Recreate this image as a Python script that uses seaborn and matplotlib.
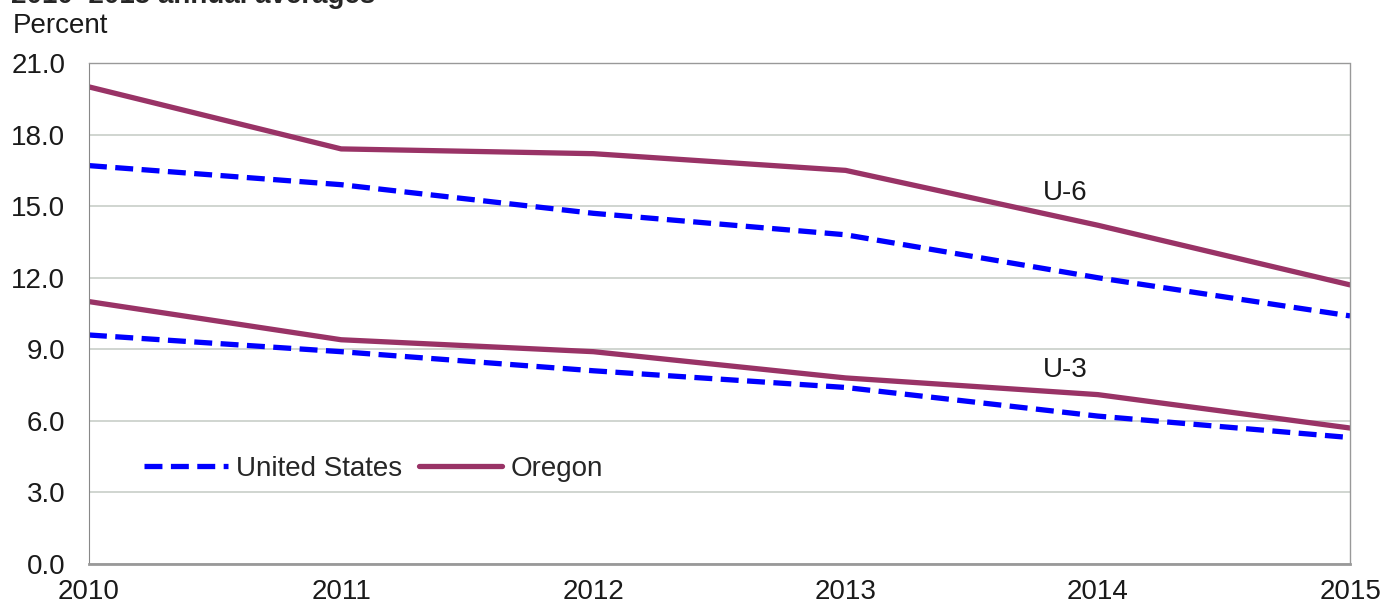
import matplotlib
matplotlib.use("Agg")
import matplotlib.pyplot as plt
import seaborn as sns
import pandas as pd

years = [2010, 2011, 2012, 2013, 2014, 2015]
us_u6 = [16.7, 15.9, 14.7, 13.8, 12.0, 10.4]
oregon_u6 = [20.0, 17.4, 17.2, 16.5, 14.2, 11.7]
us_u3 = [9.6, 8.9, 8.1, 7.4, 6.2, 5.3]
oregon_u3 = [11.0, 9.4, 8.9, 7.8, 7.1, 5.7]
y_ticks = [0, 3, 6, 9, 12, 15, 18, 21]

rows = []
for measure, area, vals in [("U-6", "United States", us_u6), ("U-6", "Oregon", oregon_u6),
                            ("U-3", "United States", us_u3), ("U-3", "Oregon", oregon_u3)]:
    for yr, v in zip(years, vals):
        rows.append({"Year": yr, "Rate": v, "Area": area, "Measure": measure})
df = pd.DataFrame(rows)

sns.set_style("white")
plt.rcParams["font.family"] = ["Liberation Sans", "DejaVu Sans"]

colors = {"United States": "#0000FF", "Oregon": "#993366"}
dashes = {"United States": (3.4, 1.6), "Oregon": ""}

fig = plt.figure(figsize=(13.81, 6.06), dpi=100)
ax = fig.add_axes([0.0644, 0.0693, 0.9132, 0.8267])

for i, measure in enumerate(["U-6", "U-3"]):
    sub = df[df["Measure"] == measure]
    sns.lineplot(data=sub, x="Year", y="Rate", hue="Area", style="Area",
                 hue_order=["United States", "Oregon"], style_order=["United States", "Oregon"],
                 palette=colors, dashes=dashes, linewidth=3.8, ax=ax, legend=(i == 0))

ax.set_xlim(2010, 2015)
ax.set_ylim(0, 21)
ax.set_yticks(y_ticks)
ax.set_yticklabels([f"{t:.1f}" for t in y_ticks])
ax.set_xticks(years)
ax.set_xticklabels([str(y) for y in years])
ax.set_xlabel("")
ax.set_ylabel("")
ax.yaxis.grid(True, color="#c8cec8", linewidth=1.2)
ax.set_axisbelow(True)
ax.tick_params(axis="both", labelsize=20, colors="#1a1a1a")
ax.tick_params(axis="x", length=8, width=1, color="#888888", direction="out", pad=3)
ax.tick_params(axis="y", length=0, pad=17)

for side in ["top", "right"]:
    ax.spines[side].set_linestyle((0, (1, 1)))
    ax.spines[side].set_color("#999999")
    ax.spines[side].set_linewidth(1)
ax.spines["left"].set_color("#888888")
ax.spines["bottom"].set_color("#999999")
ax.spines["bottom"].set_linewidth(2)

ax.text(2013.87, 15.55, "U-6", fontsize=20, ha="center", va="center", color="#1a1a1a")
ax.text(2013.87, 8.13, "U-3", fontsize=20, ha="center", va="center", color="#1a1a1a")

leg = ax.legend(loc="center left", bbox_to_anchor=(0.024, 0.19), ncol=2, frameon=False,
                fontsize=20, handlelength=3.0, handletextpad=0.3, columnspacing=0.6)

fig.text(0.008, 0.995, "2010\u20132015 annual averages", fontsize=20, fontweight="bold",
         ha="left", va="baseline")
fig.text(0.009, 0.957, "Percent", fontsize=20, ha="left", va="center", color="#1a1a1a")

fig.savefig("out.png", dpi=100)
